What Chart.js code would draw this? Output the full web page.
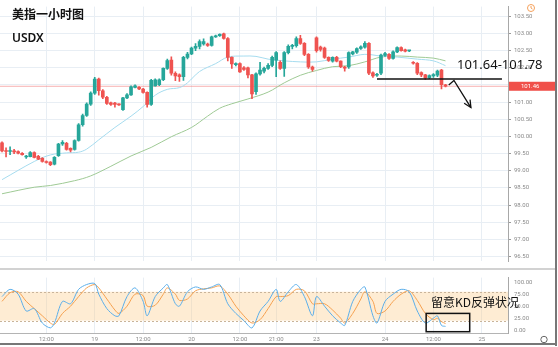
<!DOCTYPE html>
<html>
<head>
<meta charset="utf-8">
<script src="https://cdn.jsdelivr.net/npm/chart.js@4.4.0/dist/chart.umd.min.js"></script>
<style>
  body { margin: 0; background: #fff; }
  #page { position: relative; width: 558px; height: 347px; overflow: hidden; background: #fff; font-family: "Noto Sans CJK SC", "Noto Sans", sans-serif; }
  #priceBox { position: absolute; left: 0; top: 0; width: 558px; height: 268px; }
  #kdBox { position: absolute; left: 0; top: 271px; width: 558px; height: 72px; }
  #sep { position: absolute; left: 0; top: 268px; width: 556px; height: 2px; background: #d2d2d2; }
  #frameR { position: absolute; left: 555px; top: 0; width: 2px; height: 346px; background: #777; }
  #frameB { position: absolute; left: 0; top: 343px; width: 557px; height: 2px; background: #777; }
  .lbl { position: absolute; color: #111; white-space: nowrap; }
  #title { left: 12px; top: 5px; font-size: 12px; font-weight: 600; }
  #symbol { left: 12px; top: 29px; font-size: 12px; font-family: "Noto Sans", sans-serif; font-weight: 600; }
  #zone { left: 457px; top: 55px; font-size: 13px; font-family: "Noto Sans", sans-serif; }
  #kdNote { left: 431px; top: 293px; font-size: 12px; }
</style>
</head>
<body>
<div id="page">
  <div id="priceBox"><canvas id="priceChart"></canvas></div>
  <div id="sep"></div>
  <div id="kdBox"><canvas id="kdChart"></canvas></div>
  <div id="frameR"></div>
  <div id="frameB"></div>
  <div class="lbl" id="title">美指一小时图</div>
  <div class="lbl" id="symbol">USDX</div>
  <div class="lbl" id="zone">101.64-101.78</div>
  <div class="lbl" id="kdNote">留意KD反弹状况</div>
</div>
<script>
// hourly candles
const candleOpen = [99.81,99.58,99.56,99.57,99.56,99.51,99.40,99.41,99.53,99.42,99.36,99.27,99.25,99.19,99.44,99.78,99.80,99.65,99.62,99.88,
  100.34,100.61,100.94,101.26,101.67,101.33,101.14,100.98,100.97,100.93,100.78,101.12,101.21,101.43,101.43,101.38,101.28,100.93,101.47,101.51,
  101.65,101.98,102.22,101.84,101.79,101.74,102.30,102.40,102.57,102.62,102.69,102.69,102.65,102.90,102.93,102.99,102.85,102.30,102.09,102.12,
  102.00,102.00,101.79,101.30,101.82,101.90,101.98,102.07,102.22,102.16,101.98,102.44,102.62,102.64,102.85,102.71,102.39,102.02,102.87,102.60,
  102.57,102.30,102.19,102.30,102.19,102.02,102.02,102.40,102.45,102.56,102.60,102.71,101.85,101.78,101.84,102.36,102.39,102.27,102.46,102.59,
  102.52,102.49,102.16,102.13,101.86,101.79,101.71,101.76,101.78,101.93,101.50];
const candleHigh = [99.84,99.67,99.70,99.62,99.58,99.53,99.45,99.56,99.55,99.45,99.38,99.29,99.27,99.41,99.80,99.88,99.83,99.67,99.90,100.37,
  100.65,100.98,101.30,101.72,101.70,101.36,101.17,101.00,100.99,100.95,101.14,101.25,101.47,101.50,101.45,101.40,101.30,101.66,101.68,101.68,
  102.00,102.25,102.32,101.88,101.82,102.33,102.45,102.60,102.70,102.81,102.84,102.72,102.92,102.95,102.99,103.01,102.88,102.32,102.14,102.14,
  102.03,102.02,101.81,101.85,102.16,102.02,102.12,102.34,102.47,102.20,102.47,102.67,102.68,102.90,102.94,102.73,102.41,102.05,102.90,102.63,
  102.60,102.32,102.32,102.33,102.20,102.04,102.46,102.48,102.58,102.64,102.76,102.73,101.88,101.84,102.40,102.45,102.41,102.49,102.61,102.61,
  102.54,102.51,102.18,102.15,101.88,101.81,101.79,101.83,101.93,101.95,101.52];
const candleLow = [99.55,99.40,99.47,99.50,99.49,99.45,99.36,99.40,99.37,99.32,99.25,99.22,99.15,99.17,99.42,99.74,99.60,99.55,99.60,99.86,
  100.30,100.58,100.90,101.22,101.20,101.10,100.93,100.90,100.85,100.90,100.76,101.10,101.19,101.41,101.36,101.26,100.85,100.90,101.46,101.48,
  101.62,101.95,101.78,101.62,101.60,101.63,102.26,102.38,102.50,102.55,102.66,102.62,102.63,102.88,102.91,102.83,102.20,101.98,102.05,101.86,
  101.92,101.70,101.10,101.22,101.78,101.85,101.95,102.03,101.74,101.95,101.75,102.40,102.55,102.60,102.68,102.35,101.98,101.90,102.45,102.48,
  102.27,102.18,102.16,102.17,102.00,101.90,101.98,102.37,102.42,102.53,102.57,101.80,101.72,101.75,101.80,102.33,102.24,102.25,102.44,102.48,
  102.46,102.47,102.10,101.80,101.74,101.66,101.68,101.72,101.74,101.38,101.44];
const candleClose = [99.58,99.56,99.57,99.55,99.51,99.47,99.43,99.53,99.39,99.34,99.27,99.24,99.18,99.39,99.78,99.83,99.62,99.60,99.88,100.34,
  100.61,100.94,101.26,101.67,101.33,101.14,100.96,100.93,100.93,100.92,101.12,101.21,101.44,101.47,101.38,101.28,100.93,101.63,101.65,101.65,
  101.98,102.21,101.84,101.76,101.74,102.30,102.40,102.57,102.62,102.76,102.76,102.65,102.90,102.93,102.97,102.85,102.30,102.11,102.12,101.88,
  101.95,101.79,101.24,101.82,101.93,101.98,102.07,102.30,102.44,101.98,102.44,102.62,102.64,102.85,102.71,102.39,102.02,101.95,102.50,102.53,
  102.30,102.21,102.30,102.19,102.03,101.99,102.44,102.46,102.56,102.61,102.71,101.84,101.76,101.80,102.37,102.41,102.27,102.46,102.59,102.50,
  102.48,102.49,102.13,101.84,101.79,101.70,101.77,101.80,101.90,101.51,101.46];

const slotCount = 126;
const tickIdx = [11, 23, 35, 47, 59, 68, 78, 95, 107, 119];
const tickText = ["12:00", "19", "12:00", "20", "12:00", "21:00", "23", "24", "12:00", "25"];
const priceTicks = [96.5, 97, 97.5, 98, 98.5, 99, 99.5, 100, 100.5, 101, 101.5, 102, 102.5, 103, 103.5];

// moving averages (light blue fast, green slow)
const fastIdx = [0, 8, 12, 16, 19, 21, 24, 28, 32, 35, 38, 41, 44, 46, 49, 53, 56, 60, 63, 66, 70, 74, 78, 82, 86, 90, 94, 98, 103, 107, 110];
const fastMa = [98.74, 99.27, 99.46, 99.52, 99.54, 99.63, 99.90, 100.26, 100.59, 100.87, 101.20, 101.37, 101.42, 101.56, 101.89, 102.12, 102.31, 102.34, 102.33, 102.25,
  102.20, 102.17, 102.17, 102.25, 102.31, 102.39, 102.34, 102.31, 102.25, 102.20, 102.06];
const slowIdx = [0, 8, 12, 18, 22, 27, 32, 37, 42, 47, 51, 54, 57, 61, 66, 70, 74, 78, 82, 86, 90, 94, 99, 103, 107, 110];
const slowMa = [98.33, 98.52, 98.57, 98.71, 98.85, 99.13, 99.43, 99.68, 99.99, 100.26, 100.59, 100.82, 100.95, 101.09, 101.29, 101.56, 101.78, 101.92, 102.03, 102.06,
  102.17, 102.31, 102.34, 102.31, 102.28, 102.20];

const lastPrice = 101.46;
const supportLevel = 101.67;
const supportFrom = 93;
const supportTo = 124;
const arrowPath = [[110.8, 101.50], [112.1, 101.63], [116.3, 100.84]];

// stochastic KD
const kdIdx = [0, 2, 4, 6, 8, 10, 12, 13, 15, 17, 19, 21, 23, 24, 26, 28, 29, 31, 33, 35, 36, 38, 40, 41, 43, 44, 46, 48, 50, 52,
  54, 56, 58, 60, 62, 64, 66, 68, 69, 71, 73, 75, 77, 78, 80, 82, 84, 85, 87, 89, 90, 92, 93, 95, 97, 99, 101, 103, 105, 107, 108, 109, 110];
const kdK = [70, 85, 75, 40, 45, 15, 5, 15, 60, 55, 85, 95, 97, 75, 45, 30, 30, 70, 88, 60, 30, 70, 88, 95, 55, 50, 80, 90, 85, 90,
  95, 55, 35, 20, 5, 40, 60, 85, 60, 80, 95, 70, 30, 70, 50, 30, 15, 10, 60, 85, 90, 30, 15, 60, 75, 85, 80, 40, 15, 25, 30, 10, 8];
const kdD = [60, 78, 80, 60, 45, 30, 15, 12, 35, 50, 70, 88, 95, 88, 65, 42, 35, 50, 75, 72, 50, 52, 75, 88, 75, 62, 65, 82, 86, 88,
  92, 75, 50, 30, 15, 22, 45, 70, 70, 72, 85, 82, 55, 55, 55, 42, 25, 15, 35, 65, 80, 60, 35, 40, 60, 75, 82, 62, 35, 22, 25, 18, 14];
const kdTicks = [0, 25, 50, 75, 100];
const kdBand = [20, 80];

const UP = "#26a69a";
const DOWN = "#ef5350";
const GRID = "#e8eef4";
const AXIS_FONT = { size: 6, family: "Roboto" };

const isUp = candleOpen.map((o, i) => candleClose[i] >= o);
const candleColor = isUp.map(u => (u ? UP : DOWN));

const fixedTicks = list => scale => { scale.ticks = list.map(v => ({ value: v })); };

const priceOverlay = {
  id: "priceOverlay",
  afterDatasetsDraw(chart) {
    const { ctx, scales: { x, y }, chartArea } = chart;
    ctx.save();
    // hand drawn arrow
    ctx.strokeStyle = "#111";
    ctx.lineWidth = 1.3;
    ctx.beginPath();
    arrowPath.forEach(([i, p], k) => {
      const px = x.getPixelForValue(i), py = y.getPixelForValue(p);
      if (k === 0) ctx.moveTo(px, py); else ctx.lineTo(px, py);
    });
    ctx.stroke();
    const [i1, p1] = arrowPath[arrowPath.length - 2];
    const [i2, p2] = arrowPath[arrowPath.length - 1];
    const tx = x.getPixelForValue(i2), ty = y.getPixelForValue(p2);
    const ang = Math.atan2(ty - y.getPixelForValue(p1), tx - x.getPixelForValue(i1));
    ctx.beginPath();
    ctx.moveTo(tx - 8 * Math.cos(ang - 0.45), ty - 8 * Math.sin(ang - 0.45));
    ctx.lineTo(tx, ty);
    ctx.lineTo(tx - 8 * Math.cos(ang + 0.45), ty - 8 * Math.sin(ang + 0.45));
    ctx.stroke();

    // last price tag on the axis
    const ly = y.getPixelForValue(lastPrice);
    ctx.fillStyle = "#f0504a";
    ctx.fillRect(chartArea.right + 1, ly - 4.5, 46, 9);
    ctx.fillStyle = "#fff";
    ctx.font = "6px Roboto";
    ctx.textBaseline = "middle";
    ctx.fillText(lastPrice.toFixed(2), chartArea.right + 13, ly + 0.5);

    // clock icon
    ctx.strokeStyle = "#f5a05a";
    ctx.lineWidth = 1;
    ctx.beginPath();
    ctx.arc(chartArea.right + 23, 8, 3.5, 0, Math.PI * 2);
    ctx.moveTo(chartArea.right + 23, 6);
    ctx.lineTo(chartArea.right + 23, 8);
    ctx.lineTo(chartArea.right + 24.5, 9);
    ctx.stroke();
    ctx.restore();
  }
};

new Chart(document.getElementById("priceChart"), {
  type: "bar",
  data: {
    datasets: [
      {
        label: "body",
        data: candleOpen.map((o, i) => ({ x: i, y: [o, candleClose[i]] })),
        backgroundColor: candleColor,
        barThickness: 3,
        minBarLength: 1,
        grouped: false,
        order: 1
      },
      {
        label: "wick",
        data: candleLow.map((l, i) => ({ x: i, y: [l, candleHigh[i]] })),
        backgroundColor: candleColor,
        barThickness: 1,
        grouped: false,
        order: 2
      },
      {
        type: "line",
        label: "MA fast",
        data: fastIdx.map((x, i) => ({ x, y: fastMa[i] })),
        borderColor: "#a6dcef",
        borderWidth: 1,
        pointRadius: 0,
        tension: 0.35,
        order: 3
      },
      {
        type: "line",
        label: "MA slow",
        data: slowIdx.map((x, i) => ({ x, y: slowMa[i] })),
        borderColor: "#9fca95",
        borderWidth: 1,
        pointRadius: 0,
        tension: 0.35,
        order: 4
      },
      {
        type: "line",
        label: "last",
        data: [{ x: -0.5, y: lastPrice }, { x: slotCount - 0.5, y: lastPrice }],
        borderColor: "rgba(240, 110, 110, 0.55)",
        borderWidth: 1,
        pointRadius: 0,
        order: 5
      },
      {
        type: "line",
        label: "support",
        data: [{ x: supportFrom, y: supportLevel }, { x: supportTo, y: supportLevel }],
        borderColor: "#111",
        borderWidth: 1.6,
        pointRadius: 0,
        order: 0
      }
    ]
  },
  options: {
    responsive: true,
    maintainAspectRatio: false,
    animation: false,
    layout: { padding: 0 },
    plugins: { legend: { display: false }, tooltip: { enabled: false } },
    scales: {
      x: {
        type: "linear",
        offset: false,
        min: -0.5,
        max: slotCount - 0.5,
        afterBuildTicks: fixedTicks(tickIdx),
        ticks: { display: false },
        grid: { color: GRID, drawTicks: false, offset: false },
        border: { display: false },
        afterFit: s => { s.height = 0; }
      },
      y: {
        position: "right",
        min: 96.36,
        max: 103.78,
        afterBuildTicks: fixedTicks(priceTicks),
        ticks: { font: AXIS_FONT, color: "#8a8a8a", padding: 3, callback: v => v.toFixed(2) },
        grid: { color: GRID, tickLength: 3, tickColor: "#9a9a9a" },
        border: { color: "#a8a8a8" },
        afterFit: s => { s.width = 50; }
      }
    }
  },
  plugins: [priceOverlay]
});

const kdOverlay = {
  id: "kdOverlay",
  beforeDatasetsDraw(chart) {
    const { ctx, scales: { y }, chartArea } = chart;
    const top = y.getPixelForValue(kdBand[1]);
    const bottom = y.getPixelForValue(kdBand[0]);
    ctx.save();
    ctx.fillStyle = "rgba(252, 200, 130, 0.35)";
    ctx.fillRect(chartArea.left, top, chartArea.right - chartArea.left, bottom - top);
    ctx.strokeStyle = "#c9b49a";
    ctx.lineWidth = 1;
    ctx.setLineDash([2, 2]);
    [top, bottom].forEach(py => {
      ctx.beginPath();
      ctx.moveTo(chartArea.left, Math.round(py) + 0.5);
      ctx.lineTo(chartArea.right, Math.round(py) + 0.5);
      ctx.stroke();
    });
    ctx.restore();
  },
  afterDatasetsDraw(chart) {
    const { ctx, scales: { x, y }, chartArea } = chart;
    ctx.save();
    // box around the latest KD readings
    ctx.strokeStyle = "#111";
    ctx.lineWidth = 1.5;
    const left = x.getPixelForValue(105.2), right = x.getPixelForValue(116);
    const top = y.getPixelForValue(35), bottom = y.getPixelForValue(-3);
    ctx.strokeRect(left, top, right - left, bottom - top);
    // settings gear
    ctx.strokeStyle = "#666";
    ctx.lineWidth = 1;
    ctx.beginPath();
    ctx.arc(chartArea.right + 36, chart.height - 3.5, 3.2, 0, Math.PI * 2);
    ctx.stroke();
    ctx.restore();
  }
};

new Chart(document.getElementById("kdChart"), {
  type: "line",
  data: {
    datasets: [
      {
        label: "K",
        data: kdIdx.map((x, i) => ({ x, y: kdK[i] })),
        borderColor: "#5aaeea",
        borderWidth: 1,
        pointRadius: 0,
        tension: 0.3
      },
      {
        label: "D",
        data: kdIdx.map((x, i) => ({ x, y: kdD[i] })),
        borderColor: "#f5a04e",
        borderWidth: 1,
        pointRadius: 0,
        tension: 0.3
      }
    ]
  },
  options: {
    responsive: true,
    maintainAspectRatio: false,
    animation: false,
    layout: { padding: { top: 1 } },
    plugins: { legend: { display: false }, tooltip: { enabled: false } },
    scales: {
      x: {
        type: "linear",
        min: -0.5,
        max: slotCount - 0.5,
        afterBuildTicks: fixedTicks(tickIdx),
        ticks: {
          font: AXIS_FONT,
          color: "#8a8a8a",
          padding: 3,
          maxRotation: 0,
          autoSkip: false,
          callback: v => tickText[tickIdx.indexOf(v)] ?? ""
        },
        grid: { color: GRID, drawTicks: false },
        border: { color: "#b4b4b4" },
        afterFit: s => { s.height = 10; }
      },
      y: {
        position: "right",
        min: -5.7,
        max: 109.4,
        afterBuildTicks: fixedTicks(kdTicks),
        ticks: { font: AXIS_FONT, color: "#8a8a8a", padding: 3, callback: v => v.toFixed(2) },
        grid: { display: false, tickLength: 3, tickColor: "#9a9a9a" },
        border: { color: "#a8a8a8" },
        afterFit: s => { s.width = 50; }
      }
    }
  },
  plugins: [kdOverlay]
});
</script>
</body>
</html>
